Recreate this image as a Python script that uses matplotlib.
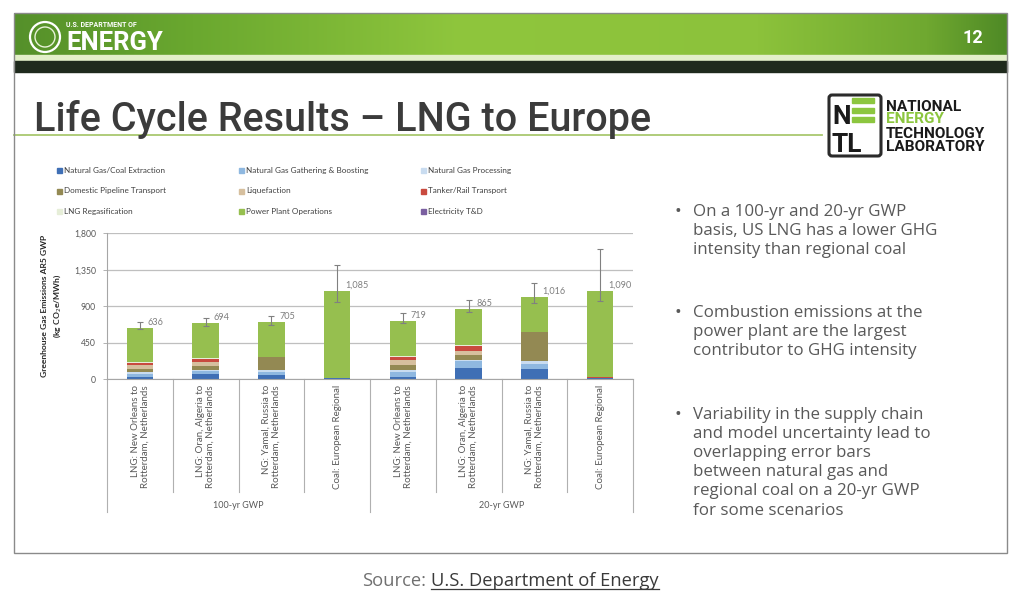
import numpy as np
import matplotlib
matplotlib.use("Agg")
import matplotlib.pyplot as plt
from matplotlib.patches import Rectangle, Circle, FancyBboxPatch
from matplotlib.colors import to_rgb
import matplotlib.transforms as mtransforms

# ---- data (kg CO2e/MWh) ----
categories = ["LNG: New Orleans to\nRotterdam, Netherlands",
              "LNG: Oran, Algeria to\nRotterdam, Netherlands",
              "NG: Yamal, Russia to\nRotterdam, Netherlands",
              "Coal: European Regional"] * 2
groups = ["100-yr GWP", "20-yr GWP"]

stage_names = ["Natural Gas/Coal Extraction", "Natural Gas Gathering & Boosting",
               "Natural Gas Processing", "Domestic Pipeline Transport",
               "Liquefaction", "Tanker/Rail Transport", "LNG Regasification",
               "Power Plant Operations", "Electricity T&D"]
stage_colors = ["#3f6fb5", "#8fb8e0", "#c9dcf0", "#938953", "#d6bf9e",
                "#c94a3f", "#e6eed8", "#96bf4f", "#7a5fa0"]

extraction   = [25, 62, 50, 10, 30, 136, 125, 15]
gathering    = [37, 41, 45, 0, 60, 90, 60, 0]
processing   = [22, 16, 25, 0, 25, 16, 35, 0]
pipeline     = [42, 40, 155, 0, 65, 62, 365, 0]
liquefaction = [50, 55, 0, 0, 60, 40, 0, 0]
tanker_rail  = [22, 37, 0, 10, 35, 70, 0, 10]
regas        = [12, 10, 0, 0, 15, 13, 0, 0]
power_plant  = [426, 433, 430, 1065, 429, 438, 431, 1065]
elec_td      = [0, 0, 0, 0, 0, 0, 0, 0]

totals   = [636, 694, 705, 1085, 719, 865, 1016, 1090]
err_low  = [615, 655, 672, 958, 695, 826, 937, 966]
err_high = [711, 760, 781, 1410, 822, 978, 1184, 1603]

bullets = ["On a 100-yr and 20-yr GWP\nbasis, US LNG has a lower GHG\nintensity than regional coal",
           "Combustion emissions at the\npower plant are the largest\ncontributor to GHG intensity",
           "Variability in the supply chain\nand model uncertainty lead to\noverlapping error bars\nbetween natural gas and\nregional coal on a 20-yr GWP\nfor some scenarios"]

stages = [extraction, gathering, processing, pipeline, liquefaction,
          tanker_rail, regas, power_plant, elec_td]

NARROW = ["Roboto", "DejaVu Sans"]
CHART = ["Lato", "DejaVu Sans"]
BODY = ["Open Sans", "DejaVu Sans"]

fig = plt.figure(figsize=(10.24, 6.06), dpi=100)
fig.patch.set_facecolor("white")

# ---- slide background (pixel coordinates) ----
bg = fig.add_axes([0, 0, 1, 1])
bg.set_xlim(0, 1024)
bg.set_ylim(606, 0)
bg.axis("off")

# green header with horizontal gradient
stops = [(0.0, "#55902a"), (0.18, "#6aa82f"), (0.45, "#8fc63d"),
         (0.75, "#8cc23b"), (0.92, "#6fa830"), (1.0, "#4f8a26")]
xs = np.linspace(0, 1, 400)
grad = np.zeros((1, 400, 3))
for c in range(3):
    grad[0, :, c] = np.interp(xs, [s[0] for s in stops],
                              [to_rgb(s[1])[c] for s in stops])
bg.imshow(grad, extent=(14, 1007, 55, 13), aspect="auto", zorder=1)
bg.add_patch(Rectangle((14, 55), 993, 4.5, color="#e3efc9", zorder=2))
bg.add_patch(Rectangle((14, 61), 993, 11, color="#1f2a1d", zorder=2))
# slide frame
bg.add_patch(Rectangle((14, 13), 993, 540, fill=False, ec="#8a8a8a", lw=1, zorder=3))

# DOE seal + wordmark
bg.add_patch(Circle((45, 37), 15, fill=False, ec="white", lw=1.6, zorder=4))
bg.add_patch(Circle((45, 37), 10, fill=False, ec="#e8f2d8", lw=1.0, zorder=4))
bg.text(66, 27, "U.S. DEPARTMENT OF", color="white", fontsize=5, weight="bold",
        family=NARROW, va="baseline", zorder=5)
bg.text(66, 50, "ENERGY", color="white", fontsize=18.5, weight="bold",
        family=NARROW, va="baseline", zorder=5)
bg.text(973, 38, "12", color="white", fontsize=13, weight="bold",
        family=NARROW, ha="center", va="center", zorder=5)

# title and underline
bg.plot([14, 822], [135, 135], color="#a9c870", lw=1.3, zorder=2)
bg.text(34, 131, "Life Cycle Results \u2013 LNG to Europe", color="#3b3b3b",
        fontsize=28.5, weight=500, family=NARROW, va="baseline", zorder=3)

# NETL logo
bg.add_patch(FancyBboxPatch((829, 95), 52, 61, boxstyle="round,pad=0,rounding_size=3",
                            fill=False, ec="#2b2b2b", lw=2.2, zorder=3))
bg.text(832, 124, "N", fontsize=19, weight="bold", family=NARROW, color="#1a1a1a",
        va="baseline", zorder=4)
for yy in (98, 107.5, 117):
    bg.add_patch(Rectangle((852, yy), 22, 5, color="#8cc63f", zorder=4))
bg.text(832, 152, "TL", fontsize=19, weight="bold", family=NARROW, color="#1a1a1a",
        va="baseline", zorder=4)
for txt, yy, col in [("NATIONAL", 111, "#1a1a1a"), ("ENERGY", 123, "#8cc63f"),
                     ("TECHNOLOGY", 138, "#1a1a1a"), ("LABORATORY", 151, "#1a1a1a")]:
    bg.text(886, yy, txt, fontsize=11.1, weight="bold", family=NARROW, color=col,
            va="baseline", zorder=4)

# bullets
for txt, yy in zip(bullets, [204, 305, 407]):
    bg.text(675, yy - 1, "\u2022", fontsize=13, color="#595959", family=BODY, va="top")
    bg.text(693, yy, txt, fontsize=12.2, color="#595959", family=BODY, va="top",
            linespacing=1.26)

# source line
bg.text(426, 581, "Source:", fontsize=13.2, color="#707070", family=BODY,
        ha="right", va="center")
link = bg.text(431, 581, "U.S. Department of Energy", fontsize=13.2, color="#3a3a3a",
               family=BODY, ha="left", va="center")

# ---- chart legend (3 x 3 grid above the plot) ----
for k, (name, col) in enumerate(zip(stage_names, stage_colors)):
    r, c = divmod(k, 3)
    lx, ly = 57 + c * 182, 170.5 + r * 20.5
    bg.add_patch(Rectangle((lx, ly - 2.5), 5, 5, color=col, zorder=3))
    bg.text(lx + 7, ly, name, fontsize=5.9, color="#404040", family=CHART,
            va="center", zorder=3)

# ---- stacked bar chart ----
ax = fig.add_axes([107 / 1024, 1 - 379.3 / 606, 526 / 1024, 146 / 606])
ax.set_facecolor("none")
x = np.arange(len(categories))
bottom = np.zeros(len(categories))
for vals, col in zip(stages, stage_colors):
    ax.bar(x, vals, width=0.4, bottom=bottom, color=col, zorder=2)
    bottom += np.array(vals)

tot = np.array(totals)
ax.errorbar(x, tot, yerr=[tot - np.array(err_low), np.array(err_high) - tot],
            fmt="none", ecolor="#808080", elinewidth=0.8, capsize=2.2,
            capthick=0.8, zorder=3)
for xi, t in zip(x, totals):
    ax.text(xi + 0.12, t + 70, f"{t:,}", fontsize=6.6, color="#7f7f7f",
            family=CHART, ha="left", va="center", zorder=4)

ax.set_xlim(-0.5, 7.5)
ax.set_ylim(0, 1800)
ax.set_yticks([0, 450, 900, 1350, 1800])
ax.set_yticklabels([f"{v:,}" for v in [0, 450, 900, 1350, 1800]])
ax.yaxis.grid(True, color="#bfbfbf", lw=0.9, zorder=0)
ax.set_axisbelow(True)
ax.tick_params(axis="y", labelsize=6.2, colors="#595959", length=3, width=0.6,
               pad=5, color="#a6a6a6")
for lab in ax.get_yticklabels():
    lab.set_family(CHART)
ax.set_xticks([])
for s in ("top", "right"):
    ax.spines[s].set_visible(False)
for s in ("left", "bottom"):
    ax.spines[s].set_color("#a6a6a6")
    ax.spines[s].set_linewidth(0.8)

ax.set_ylabel("Greenhouse Gas Emissions AR5 GWP\n(kg CO$_2$e/MWh)", fontsize=6.1,
              weight="bold", color="#262626", family=CHART, labelpad=8,
              linespacing=1.3)

trans = mtransforms.blended_transform_factory(ax.transData, ax.transAxes)
for b in np.arange(-0.5, 8, 1.0):
    depth = -0.91 if b in (-0.5, 3.5, 7.5) else -0.775
    ax.plot([b, b], [0, depth], transform=trans, color="#b0b0b0", lw=0.8,
            clip_on=False)
for xi, cat in zip(x, categories):
    ax.text(xi, -0.04, cat, transform=trans, rotation=90, fontsize=7,
            color="#595959", family=CHART, ha="center", va="top",
            multialignment="right", linespacing=1.1)
for gi, g in enumerate(groups):
    ax.text(gi * 4 + 1.5, -0.865, g, transform=trans, fontsize=6.5, color="#595959",
            family=CHART, ha="center", va="center")

# underline for the source link
fig.canvas.draw()
bb = link.get_window_extent().transformed(bg.transData.inverted())
bg.plot([bb.x0, bb.x1], [bb.y0 - 1, bb.y0 - 1], color="#3a3a3a", lw=0.9)

fig.savefig("out.png", dpi=100, facecolor="white")
